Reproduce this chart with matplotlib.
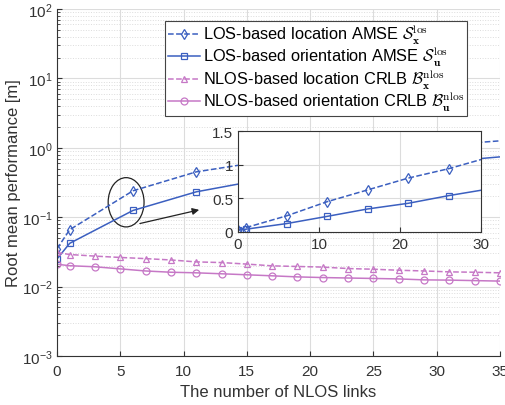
import matplotlib.pyplot as plt
from matplotlib.patches import Ellipse

# данные
los_x = [0, 1, 6, 11, 16, 21, 26, 31, 35]
los_loc = [0.035, 0.066, 0.24, 0.45, 0.625, 0.80, 0.94, 1.11, 1.26]
los_ori = [0.025, 0.042, 0.125, 0.232, 0.342, 0.426, 0.54, 0.64, 0.74]

nlos_x = [0, 1, 3, 5, 7, 9, 11, 13, 15, 17, 19, 21, 23, 25, 27, 29, 31, 33, 35]
nlos_loc = [0.031, 0.029, 0.0275, 0.0263, 0.0253, 0.0242, 0.0227, 0.0222, 0.0211,
            0.0199, 0.0195, 0.0191, 0.0182, 0.0178, 0.0172, 0.0168, 0.0163, 0.0161, 0.0158]
nlos_ori = [0.021, 0.020, 0.0193, 0.0180, 0.0168, 0.0161, 0.0158, 0.0153, 0.0148,
            0.0143, 0.0138, 0.0135, 0.0133, 0.0131, 0.0129, 0.0125, 0.0124, 0.0122, 0.0120]

labels = [
    r'LOS-based location AMSE $\mathcal{S}_{\mathbf{x}}^{\mathrm{los}}$',
    r'LOS-based orientation AMSE $\mathcal{S}_{\mathbf{u}}^{\mathrm{los}}$',
    r'NLOS-based location CRLB $\mathcal{B}_{\mathbf{x}}^{\mathrm{nlos}}$',
    r'NLOS-based orientation CRLB $\mathcal{B}_{\mathbf{u}}^{\mathrm{nlos}}$',
]

blue = '#3b5fc0'
pink = '#c678c6'

plt.rcParams['font.family'] = ['Liberation Sans', 'DejaVu Sans']
plt.rcParams['mathtext.fontset'] = 'cm'

fig = plt.figure(figsize=(5.05, 4.06), dpi=100)
ax = fig.add_axes([57 / 505, 49 / 406, 443 / 505, 347 / 406])

mk = dict(markersize=5, markerfacecolor='none', markeredgewidth=0.9, linewidth=1.1)
ax.plot(los_x, los_loc, '--', marker='d', color=blue, markevery=range(8), label=labels[0], **mk)
ax.plot(los_x, los_ori, '-', marker='s', color=blue, markevery=range(8), label=labels[1], **mk)
ax.plot(nlos_x, nlos_loc, '--', marker='^', color=pink, label=labels[2], **mk)
ax.plot(nlos_x, nlos_ori, '-', marker='o', color=pink, label=labels[3], **mk)

ax.set_yscale('log')
ax.set_xlim(0, 35)
ax.set_ylim(1e-3, 1e2)
ax.set_xticks(range(0, 36, 5))
ax.grid(True, which='major', color='#dcdcdc', linewidth=0.8)
ax.grid(True, which='minor', axis='y', color='#dcdcdc', linestyle=':', linewidth=0.7)
ax.set_axisbelow(True)
ax.tick_params(direction='in', labelsize=11, which='both', colors='#333333')
ax.tick_params(axis='x', pad=6)
ax.tick_params(axis='y', pad=3)
for s in ['top', 'right']:
    ax.spines[s].set_visible(False)
for s in ['left', 'bottom']:
    ax.spines[s].set_color('#333333')

ax.set_xlabel('The number of NLOS links', fontsize=12, color='#333333')
ax.set_ylabel('Root mean performance [m]', fontsize=12, color='#333333', labelpad=1)

leg = ax.legend(loc='upper left', bbox_to_anchor=(0.244, 0.966), borderaxespad=0,
                fontsize=11.8, fancybox=False, framealpha=1, edgecolor='#444444',
                handlelength=1.9, handletextpad=0.2, borderpad=0.2, labelspacing=0.0)
leg.get_frame().set_linewidth(0.8)

# эллипс и стрелка
ax.add_patch(Ellipse((0.156, 0.443), 0.081, 0.142, transform=ax.transAxes,
                     fill=False, edgecolor='#222222', linewidth=0.9))
ax.annotate('', xy=(0.327, 0.423), xytext=(0.181, 0.380), xycoords='axes fraction',
            arrowprops=dict(arrowstyle='-|>', color='#222222', linewidth=0.9))

# вставка
ins = fig.add_axes([238 / 505, (406 - 233) / 406, 243 / 505, 101 / 406])
ins.plot(los_x, los_loc, '--', marker='d', color=blue, markevery=range(8), **mk)
ins.plot(los_x, los_ori, '-', marker='s', color=blue, markevery=range(8), **mk)
ins.set_xlim(0, 30)
ins.set_ylim(0, 1.5)
ins.set_xticks([0, 10, 20, 30])
ins.set_yticks([0, 0.5, 1, 1.5])
ins.set_yticklabels(['0', '0.5', '1', '1.5'])
ins.grid(True, color='#dcdcdc', linewidth=0.8)
ins.tick_params(direction='in', labelsize=11, colors='#333333')
for s in ins.spines.values():
    s.set_color('#333333')

plt.savefig('out.png', dpi=100)
